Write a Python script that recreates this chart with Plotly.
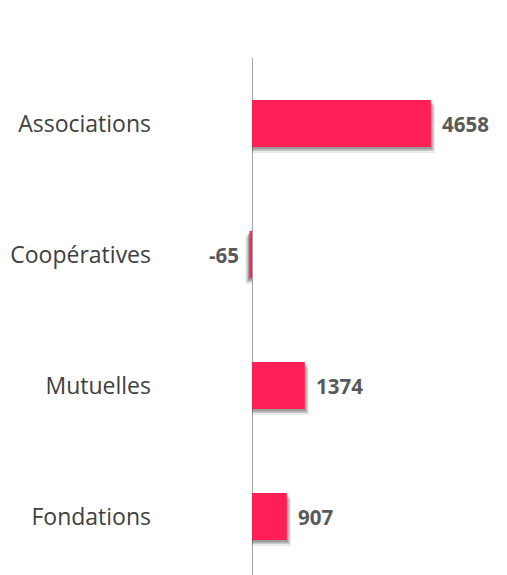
import plotly.graph_objects as go

categories = ["Associations", "Coopératives", "Mutuelles", "Fondations"]
values = [4658, -65, 1374, 907]
value_labels = ["4658", "-65", "1374", "907"]

BAR_COLOR = "#FF1F57"
W, H = 499, 567
L, T = 152, 50
x_range = [-2396, 6641]
px_per_unit = (W - L) / (x_range[1] - x_range[0])
y_span = (H - T) / 131.0
y_range = [-0.5 + y_span, -0.5]

bw = 0.36
fig = go.Figure()
# soft drop shadows
for dy, dx, op in [(6, 4, 0.08), (4, 3, 0.15), (2.5, 1.5, 0.22)]:
    fig.add_trace(go.Bar(
        y=categories,
        x=[v + (dx / px_per_unit if v >= 0 else -dx / px_per_unit) for v in values],
        orientation="h", marker=dict(color=f"rgba(0,0,0,{op})", line=dict(width=0)),
        width=bw, offset=-bw / 2 + dy / 131.0, hoverinfo="skip", showlegend=False))
fig.add_trace(go.Bar(
    y=categories, x=values, orientation="h",
    marker=dict(color=BAR_COLOR, line=dict(width=0)),
    width=bw, offset=-bw / 2, showlegend=False))

for c, v, t in zip(categories, values, value_labels):
    fig.add_annotation(x=v, y=c, text=f"<b>{t}</b>", showarrow=False,
                       xanchor="left" if v >= 0 else "right",
                       xshift=9 if v >= 0 else -9,
                       font=dict(family="Open Sans", size=20.5, color="#595959"))

fig.update_layout(
    width=W, height=H, barmode="overlay",
    margin=dict(l=L, r=0, t=T, b=0),
    paper_bgcolor="white", plot_bgcolor="white",
    xaxis=dict(range=x_range, showgrid=False, showticklabels=False,
               zeroline=True, zerolinecolor="#A6A6A6", zerolinewidth=1),
    yaxis=dict(categoryorder="array", categoryarray=categories, range=y_range,
               showgrid=False, zeroline=False, showline=False, ticks="",
               ticklabelstandoff=8,
               tickfont=dict(family="Open Sans", size=23, color="#404040")),
)
fig.write_html("out.html")
